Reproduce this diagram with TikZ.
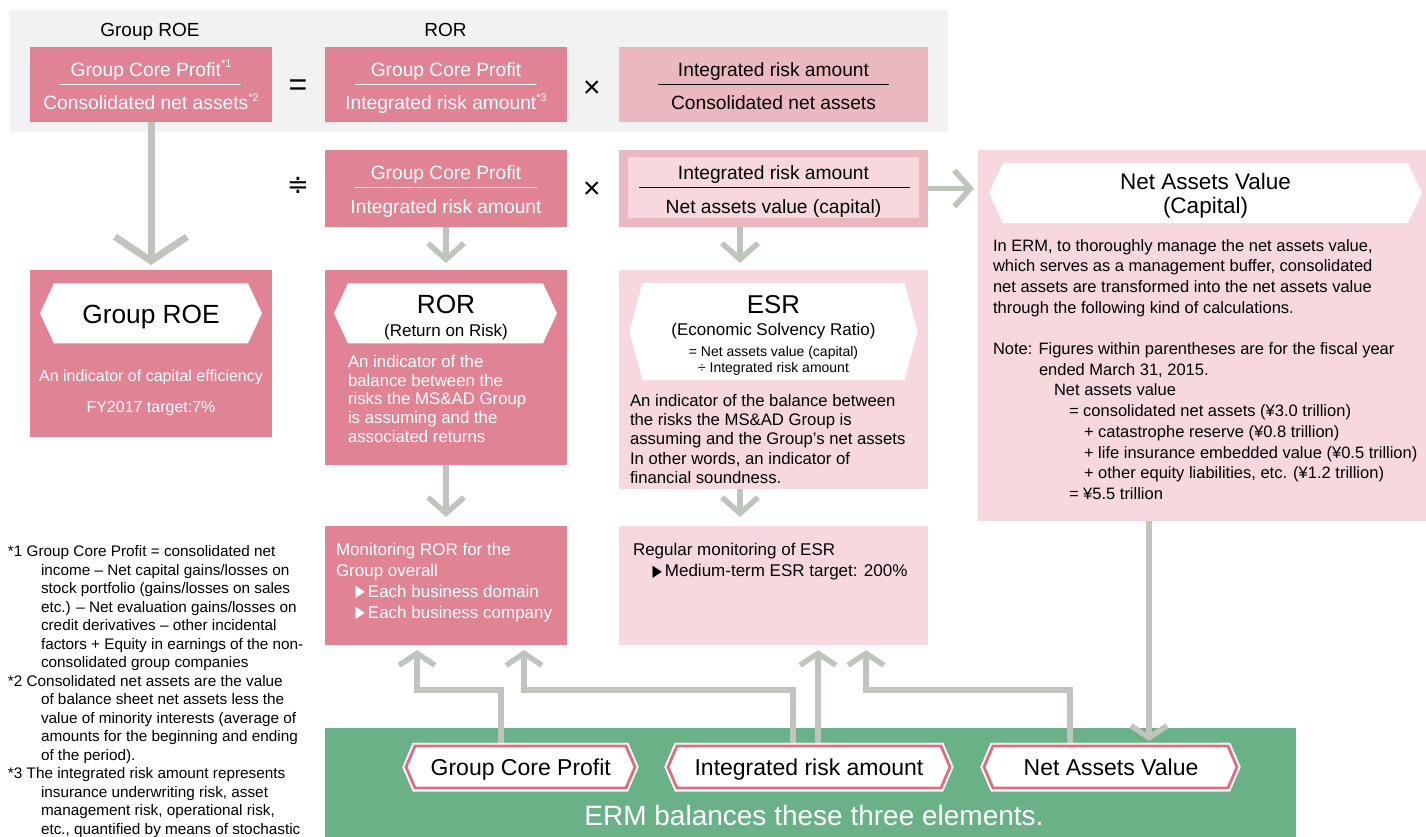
\documentclass[tikz,border=0pt]{standalone}
\usepackage{fontspec}
\setmainfont{Liberation Sans}
\newfontfamily\dejavu{DejaVu Sans}
\usepackage{graphicx}
\usetikzlibrary{arrows.meta,calc}
\definecolor{pkD}{HTML}{E08495}
\definecolor{pkM}{HTML}{EBB7C0}
\definecolor{pkL}{HTML}{F6D8DE}
\definecolor{pkS}{HTML}{DC6E83}
\definecolor{arr}{HTML}{BFC4BC}
\definecolor{grn}{HTML}{6BB187}
\definecolor{bgG}{HTML}{F2F2F2}
\newcommand\sups[1]{\raisebox{0.42em}{\fontsize{11}{11}\selectfont #1}}
\newcommand\tri{\raisebox{0.03em}{\scalebox{0.72}[0.95]{\dejavu ▶}}}
\newcommand\fl{\rule{0pt}{14pt}}
\tikzset{
  every node/.style={inner sep=0pt, outer sep=0pt},
  fnt/.style 2 args={font=\fontsize{#1}{#2}\selectfont},
  blk/.style={fill=#1, draw=none},
  fracline/.style={draw=#1, line width=1.1pt},
  hexw/.style={path picture={\fill[white]
      (path picture bounding box.west)
      -- ([xshift=#1]path picture bounding box.north west)
      -- ([xshift=-#1]path picture bounding box.north east)
      -- (path picture bounding box.east)
      -- ([xshift=-#1]path picture bounding box.south east)
      -- ([xshift=#1]path picture bounding box.south west) -- cycle;}},
  hexo/.style={path picture={
      \draw[white, line width=6.5pt, fill=white]
      ([xshift=4pt]path picture bounding box.west)
      -- ([xshift=13pt,yshift=-4pt]path picture bounding box.north west)
      -- ([xshift=-13pt,yshift=-4pt]path picture bounding box.north east)
      -- ([xshift=-4pt]path picture bounding box.east)
      -- ([xshift=-13pt,yshift=4pt]path picture bounding box.south east)
      -- ([xshift=13pt,yshift=4pt]path picture bounding box.south west) -- cycle;
      \draw[pkS, line width=2.8pt]
      ([xshift=4pt]path picture bounding box.west)
      -- ([xshift=13pt,yshift=-4pt]path picture bounding box.north west)
      -- ([xshift=-13pt,yshift=-4pt]path picture bounding box.north east)
      -- ([xshift=-4pt]path picture bounding box.east)
      -- ([xshift=-13pt,yshift=4pt]path picture bounding box.south east)
      -- ([xshift=13pt,yshift=4pt]path picture bounding box.south west) -- cycle;}},
  conn/.style={draw=arr, line width=5.5pt},
  tipBig/.style={-{Straight Barb[length=24pt,width=72pt]}},
  tipS/.style={-{Straight Barb[length=16pt,width=36pt]}},
  tipU/.style={-{Straight Barb[length=12pt,width=36pt]}},
}
\begin{document}
\begin{tikzpicture}[x=1pt,y=-1pt]
\useasboundingbox (0,0) rectangle (1426,836);

% ---------- top grey band ----------
\node[blk=bgG, minimum width=938pt, minimum height=122pt] (topbg) at (479,71) {};
\node[fnt={19}{23}, anchor=base] (hdrROE) at (150,36) {Group ROE};
\node[fnt={19}{23}, anchor=base] (hdrROR) at (445.5,36) {ROR};

\node[blk=pkD, minimum width=242pt, minimum height=75pt] (f1) at (151,84.5) {};
\node[fnt={19.2}{23}, text=white, anchor=base] (f1n) at (151,76) {Group Core Profit\sups{*1}};
\draw[fracline=white] ([xshift=-91pt]f1.center) -- ([xshift=90pt]f1.center);
\node[fnt={19.2}{23}, text=white, anchor=base] (f1d) at (151,109.3) {Consolidated net assets\sups{*2}};

\node[fnt={32}{32}] (eq) at (298,88) {=};

\node[blk=pkD, minimum width=242pt, minimum height=75pt] (f2) at (446,84.5) {};
\node[fnt={19.2}{23}, text=white, anchor=base] (f2n) at (446,76) {Group Core Profit};
\draw[fracline=white] ([xshift=-91pt]f2.center) -- ([xshift=91pt]f2.center);
\node[fnt={19.2}{23}, text=white, anchor=base] (f2d) at (446,109.3) {Integrated risk amount\sups{*3}};

\node[fnt={30}{30}] (x1) at (592,89) {×};

\node[blk=pkM, minimum width=309pt, minimum height=75pt] (f3) at (773.5,84.5) {};
\node[fnt={19.2}{23}, anchor=base] (f3n) at (773.5,76) {Integrated risk amount};
\draw[fracline=black] ([xshift=-115.5pt]f3.center) -- ([xshift=115.5pt]f3.center);
\node[fnt={19.2}{23}, anchor=base] (f3d) at (773.5,109.3) {Consolidated net assets};

% ---------- second row ----------
\node[fnt={26}{26}] (deq) at (298,185) {\dejavu ≑};

\node[blk=pkD, minimum width=242pt, minimum height=77pt] (f4) at (446,188.5) {};
\node[fnt={19.2}{23}, text=white, anchor=base] (f4n) at (446,179.3) {Group Core Profit};
\draw[fracline=white] ([xshift=-91pt,yshift=0.8pt]f4.center) -- ([xshift=91pt,yshift=0.8pt]f4.center);
\node[fnt={19.2}{23}, text=white, anchor=base] (f4d) at (446,213.3) {Integrated risk amount};

\node[fnt={30}{30}] (x2) at (592,190) {×};

\node[blk=pkM, minimum width=309pt, minimum height=77pt] (f5) at (773.5,188.5) {};
\node[blk=pkL, minimum width=291pt, minimum height=61pt] (f5i) at (773.5,187.5) {};
\node[fnt={19.2}{23}, anchor=base] (f5n) at (773.5,179.3) {Integrated risk amount};
\draw[fracline=black] ([xshift=-135pt]f5i.center) -- ([xshift=136pt]f5i.center);
\node[fnt={19.2}{23}, anchor=base] (f5d) at (773.5,213.3) {Net assets value (capital)};

% ---------- Net assets value panel ----------
\node[blk=pkL, minimum width=448pt, minimum height=371pt] (nav) at (1202,335.5) {};
\node[hexw=14pt, minimum width=433pt, minimum height=60pt] (navH) at (1205.5,193) {};
\node[fnt={22.5}{24}, anchor=base] (navT1) at (1205.5,189.3) {Net Assets Value};
\node[fnt={22.5}{24}, anchor=base] (navT2) at (1205.5,213.3) {(Capital)};
\node[fnt={16.5}{20.7}, align=left, anchor=north west] (navTxt) at (993,237) {\fl In ERM, to thoroughly manage the net assets value,\\
which serves as a management buffer, consolidated\\
net assets are transformed into the net assets value\\
through the following kind of calculations.\\[20.7pt]
Note: Figures within parentheses are for the fiscal year\\
\hspace*{46pt}ended March 31, 2015.\\
\hspace*{61pt}Net assets value\\
\hspace*{76pt}= consolidated net assets (¥3.0 trillion)\\
\hspace*{91pt}+ catastrophe reserve (¥0.8 trillion)\\
\hspace*{91pt}+ life insurance embedded value (¥0.5 trillion)\\
\hspace*{91pt}+ other equity liabilities, etc. (¥1.2 trillion)\\
\hspace*{76pt}= ¥5.5 trillion};

% ---------- third row ----------
\node[blk=pkD, minimum width=242pt, minimum height=167pt] (roe) at (151,353.5) {};
\node[hexw=14pt, minimum width=222pt, minimum height=60pt] (roeH) at (151,313.3) {};
\node[fnt={26.3}{30}, anchor=base] (roeT) at (151,323.3) {Group ROE};
\node[fnt={16}{19}, text=white, anchor=base] (roeA) at (151,381) {An indicator of capital efficiency};
\node[fnt={16}{19}, text=white, anchor=base] (roeB) at (151,412.7) {FY2017 target:7\%};

\node[blk=pkD, minimum width=242pt, minimum height=195pt] (ror) at (446,367.5) {};
\node[hexw=14pt, minimum width=223pt, minimum height=60pt] (rorH) at (445.5,313.3) {};
\node[fnt={26.3}{30}, anchor=base] (rorT) at (446,313.3) {ROR};
\node[fnt={17}{20}, anchor=base] (rorS) at (446,336.7) {(Return on Risk)};
\node[fnt={16.8}{18.8}, text=white, align=left, anchor=north west] (rorTxt) at (348,353.3) {\fl An indicator of the\\
balance between the\\
risks the MS\&AD Group\\
is assuming and the\\
associated returns};

\node[blk=pkL, minimum width=309pt, minimum height=219pt] (esr) at (773.5,379.5) {};
\node[hexw=13pt, minimum width=288pt, minimum height=97pt] (esrH) at (773.5,331.5) {};
\node[fnt={25.8}{30}, anchor=base] (esrT) at (773.5,313.3) {ESR};
\node[fnt={17}{20}, anchor=base] (esrS) at (773.5,335) {(Economic Solvency Ratio)};
\node[fnt={14}{16}, anchor=base] (esrF1) at (773.5,356) {= Net assets value (capital)};
\node[fnt={14}{16}, anchor=base] (esrF2) at (773.5,372.3) {÷ Integrated risk amount};
\node[fnt={16.7}{19.1}, align=left, anchor=north west] (esrTxt) at (630,392.7) {\fl An indicator of the balance between\\
the risks the MS\&AD Group is\\
assuming and the Group’s net assets\\
In other words, an indicator of\\
financial soundness.};

% ---------- monitoring row ----------
\node[blk=pkD, minimum width=242pt, minimum height=119pt] (monR) at (446,585.5) {};
\node[fnt={17}{21.1}, text=white, align=left, anchor=north west] (monRT) at (336,541) {\fl Monitoring ROR for the\\
Group overall\\
\hspace*{19.5pt}\tri\hspace{3pt}Each business domain\\
\hspace*{19.5pt}\tri\hspace{3pt}Each business company};

\node[blk=pkL, minimum width=309pt, minimum height=119pt] (monE) at (773.5,585.5) {};
\node[fnt={17}{21.7}, align=left, anchor=north west] (monET) at (633,541) {\fl Regular monitoring of ESR\\
\hspace*{19.5pt}\tri\hspace{3pt}Medium-term ESR target: 200\%};

% ---------- footnotes ----------
\node[fnt={15.3}{18.5}, align=left, anchor=north west] (notes) at (8,542.7) {\fl *1 Group Core Profit = consolidated net\\
\hspace*{33pt}income -- Net capital gains/losses on\\
\hspace*{33pt}stock portfolio (gains/losses on sales\\
\hspace*{33pt}etc.) -- Net evaluation gains/losses on\\
\hspace*{33pt}credit derivatives -- other incidental\\
\hspace*{33pt}factors + Equity in earnings of the non-\\
\hspace*{33pt}consolidated group companies\\
*2 Consolidated net assets are the value\\
\hspace*{33pt}of balance sheet net assets less the\\
\hspace*{33pt}value of minority interests (average of\\
\hspace*{33pt}amounts for the beginning and ending\\
\hspace*{33pt}of the period).\\
*3 The integrated risk amount represents\\
\hspace*{33pt}insurance underwriting risk, asset\\
\hspace*{33pt}management risk, operational risk,\\
\hspace*{33pt}etc., quantified by means of stochastic\\
\hspace*{33pt}methods.};

% ---------- green band ----------
\node[blk=grn, minimum width=971pt, minimum height=112pt] (green) at (810.5,784) {};
\node[hexo, minimum width=237pt, minimum height=50pt] (hGCP) at (520.5,767) {};
\node[hexo, minimum width=290pt, minimum height=50pt] (hIRA) at (809,767) {};
\node[hexo, minimum width=261pt, minimum height=50pt] (hNAV) at (1110.5,767) {};

% ---------- connectors ----------
\draw[conn, line width=7pt, tipBig, shorten >=5pt] (f1.south) -- (roe.north);
\draw[conn, tipS, shorten >=7pt] (f4.south) -- (ror.north);
\draw[conn, tipS, shorten >=7pt] ([xshift=-33.5pt]f5.south) -- ([xshift=-33.5pt]esr.north);
\draw[conn, tipS, shorten >=4pt] (f5.east) -- (f5.east -| nav.west);
\draw[conn, tipS, shorten >=9pt] (ror.south) -- (monR.north);
\draw[conn, tipS, shorten >=9pt] ([xshift=-33.5pt]esr.south) -- ([xshift=-33.5pt]monE.north);
\draw[conn, tipU, shorten >=5pt] ([xshift=-53pt]nav.south) -- ([xshift=38.5pt,yshift=-4pt]hNAV.north);

\coordinate (k1) at (417,690);
\coordinate (k2) at (524,690);
\coordinate (k3) at (866,690);
\draw[conn, tipU, shorten >=5pt] ([xshift=-19.5pt,yshift=-4pt]hGCP.north) |- (k1) -- (k1 |- monR.south);
\draw[conn, tipU, shorten >=5pt] ([xshift=-16pt,yshift=-4pt]hIRA.north) |- (k2) -- (k2 |- monR.south);
\draw[conn, tipU, shorten >=5pt] ([xshift=9pt,yshift=-4pt]hIRA.north) -- ([xshift=9pt]hIRA.north |- monE.south);
\draw[conn, tipU, shorten >=5pt] ([xshift=-40.5pt,yshift=-4pt]hNAV.north) |- (k3) -- (k3 |- monE.south);

% hexagons over connector ends
\node[hexo, minimum width=237pt, minimum height=50pt] (hGCP2) at (hGCP) {};
\node[hexo, minimum width=290pt, minimum height=50pt] (hIRA2) at (hIRA) {};
\node[hexo, minimum width=261pt, minimum height=50pt] (hNAV2) at (hNAV) {};
\node[fnt={23}{26}, anchor=base] (tGCP) at (520.8,775) {Group Core Profit};
\node[fnt={23}{26}, anchor=base] (tIRA) at (809,775) {Integrated risk amount};
\node[fnt={23}{26}, anchor=base] (tNAV) at (1111,775) {Net Assets Value};
\node[fnt={28}{32}, text=white, anchor=base] (ermT) at (814,825) {ERM balances these three elements.};
\end{tikzpicture}
\end{document}
